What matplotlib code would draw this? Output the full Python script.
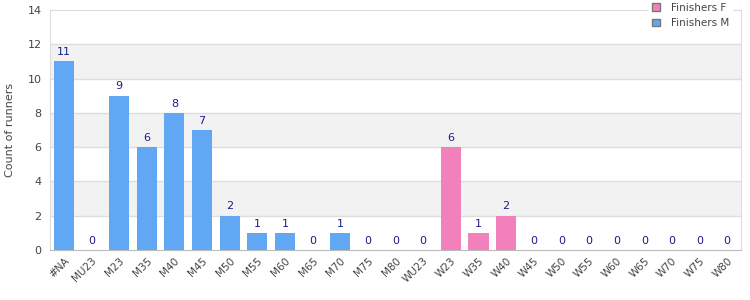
import matplotlib
matplotlib.use("Agg")
import matplotlib.pyplot as plt
from matplotlib.patches import Patch

categories = ["#NA", "MU23", "M23", "M35", "M40", "M45", "M50", "M55", "M60", "M65", "M70", "M75", "M80",
              "WU23", "W23", "W35", "W40", "W45", "W50", "W55", "W60", "W65", "W70", "W75", "W80"]
sex = ["M"] * 13 + ["F"] * 12
counts = [11, 0, 9, 6, 8, 7, 2, 1, 1, 0, 1, 0, 0,
          0, 6, 1, 2, 0, 0, 0, 0, 0, 0, 0, 0]

col_m = "#60a8f4"
col_f = "#f281bb"
label_col = "#1c1c8c"
text_col = "#444444"

fig = plt.figure(figsize=(7.5, 3), dpi=100)
ax = fig.add_axes([50/750, 50/300, 691/750, 240/300])

x = list(range(len(categories)))
colors = [col_m if s == "M" else col_f for s in sex]
ax.set_xlim(-0.5, len(categories) - 0.5)
ax.set_ylim(0, 14)

for i, (lo, hi) in enumerate([(0, 2), (2, 4), (4, 6), (6, 8), (8, 10), (10, 12), (12, 14)]):
    if i % 2 == 1:
        ax.axhspan(lo, hi, color="#f2f2f2", zorder=0, lw=0)
for y in range(2, 14, 2):
    ax.axhline(y, color="#dddddd", lw=1, zorder=1)

ax.bar(x, counts, width=0.73, color=colors, zorder=2)
for xi, v in zip(x, counts):
    ax.text(xi, v + 0.25, str(v), ha="center", va="bottom", fontsize=8, color=label_col, zorder=3)

ax.set_yticks(range(0, 15, 2))
ax.set_xticks(x)
ax.set_xticklabels(categories, rotation=45, ha="right", rotation_mode="anchor", fontsize=7.5, color=text_col)
ax.tick_params(axis="y", labelsize=8, colors=text_col, length=0, pad=6)
ax.tick_params(axis="x", length=0, pad=4)
ax.set_ylabel("Count of runners", fontsize=8, color=text_col, labelpad=9)

for s in ["top", "right", "left"]:
    ax.spines[s].set_color("#dddddd")
ax.spines["bottom"].set_color("#bbbbbb")

handles = [Patch(facecolor=col_f, edgecolor="#777777", label="Finishers F"),
           Patch(facecolor=col_m, edgecolor="#777777", label="Finishers M")]
leg = ax.legend(handles=handles, loc="upper right", bbox_to_anchor=(0.995, 1.065), fontsize=7.5,
                frameon=True, framealpha=1, edgecolor="white", fancybox=False,
                handlelength=0.7, handleheight=0.7, handletextpad=1.1, labelspacing=0.55,
                borderpad=0.3)
for t in leg.get_texts():
    t.set_color(text_col)
leg.set_zorder(5)

fig.savefig("out.png", dpi=100)
